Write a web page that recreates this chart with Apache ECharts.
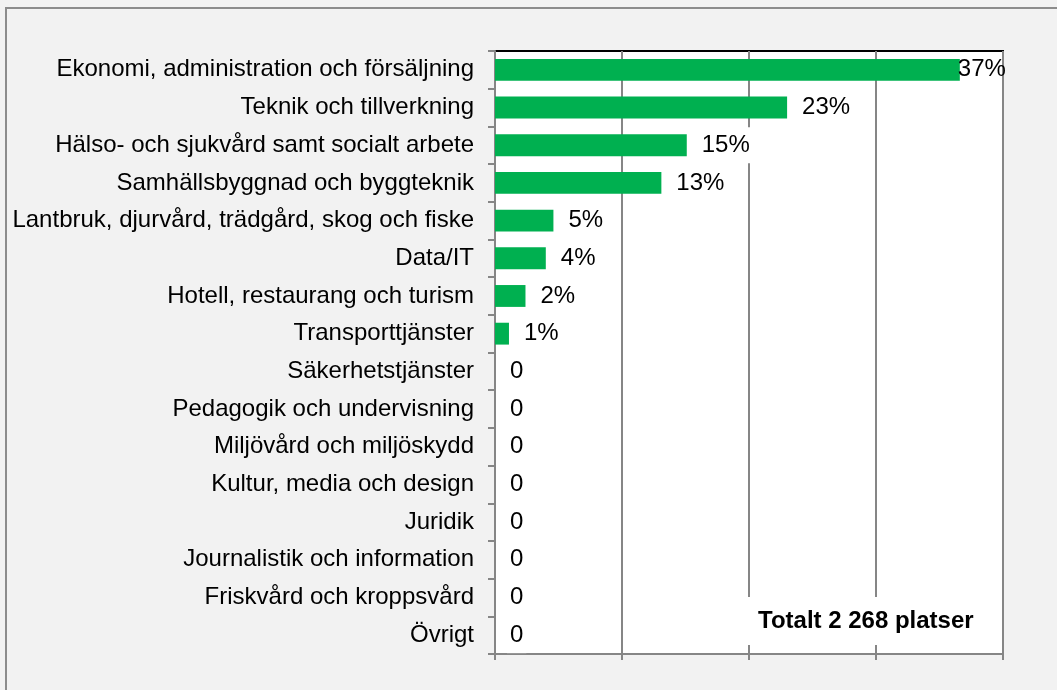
<!DOCTYPE html>
<html>
<head>
<meta charset="utf-8">
<script src="https://cdn.jsdelivr.net/npm/echarts@6/dist/echarts.min.js"></script>
<style>
  html, body { margin: 0; padding: 0; background: #f2f2f2; }
  #chart { width: 1057px; height: 690px; }
</style>
</head>
<body>
<div id="chart"></div>
<script>
// utbildningsområden, andel av platser
const categories = [
  'Ekonomi, administration och försäljning',
  'Teknik och tillverkning',
  'Hälso- och sjukvård samt socialt arbete',
  'Samhällsbyggnad och byggteknik',
  'Lantbruk, djurvård, trädgård, skog och fiske',
  'Data/IT',
  'Hotell, restaurang och turism',
  'Transporttjänster',
  'Säkerhetstjänster',
  'Pedagogik och undervisning',
  'Miljövård och miljöskydd',
  'Kultur, media och design',
  'Juridik',
  'Journalistik och information',
  'Friskvård och kroppsvård',
  'Övrigt'
]
const shares = [0.366, 0.230, 0.151, 0.131, 0.046, 0.040, 0.024, 0.011, 0, 0, 0, 0, 0, 0, 0, 0]
const axisTicks = [0, 0.1, 0.2, 0.3, 0.4]
const totalText = 'Totalt 2 268 platser'

const font = 'Liberation Sans, Arial, sans-serif'

const chart = echarts.init(document.getElementById('chart'))

const fmt = (v) => (v === 0 ? '0' : Math.round(v * 100) + '%')

const option = {
  backgroundColor: '#f2f2f2',
  animation: false,
  grid: {
    left: 495,
    top: 51,
    right: 54,
    bottom: 36,
    show: true,
    backgroundColor: '#fff',
    borderColor: '#000',
    borderWidth: 2,
  },
  xAxis: {
    type: 'value',
    min: axisTicks[0],
    max: axisTicks[axisTicks.length - 1],
    interval: axisTicks[1] - axisTicks[0],
    axisLine: { show: true, lineStyle: { color: '#868686', width: 2 } },
    axisTick: { show: true, length: 6, lineStyle: { color: '#868686', width: 2 } },
    axisLabel: { show: false },
    splitLine: { show: true, lineStyle: { color: '#868686', width: 2 } },
  },
  yAxis: {
    type: 'category',
    inverse: true,
    data: categories,
    axisLine: { show: true, lineStyle: { color: '#868686', width: 2 } },
    axisTick: { show: true, length: 7, lineStyle: { color: '#868686', width: 2 } },
    axisLabel: { margin: 21, color: '#000', fontSize: 24, fontFamily: font },
    splitLine: { show: false },
  },
  series: [
    {
      type: 'bar',
      barWidth: '58%',
      itemStyle: { color: '#00b050' },
      label: {
        show: true,
        position: 'right',
        distance: 12,
        color: '#000',
        fontSize: 24,
        fontFamily: font,
        backgroundColor: '#fff',
        padding: [6, 3],
        formatter: (p) => fmt(p.value),
      },
      // the largest label is pushed back inside the plot area
      data: shares.map((v, i) => (i === 0 ? { value: v, label: { offset: [-17, 0], backgroundColor: 'transparent' } } : v)),
    },
  ],
  graphic: [
    {
      type: 'rect',
      silent: true,
      shape: { x: 6, y: 8, width: 1200, height: 900 },
      style: { fill: null, stroke: '#8c8c8c', lineWidth: 2 },
      z: 100,
    },
    {
      type: 'text',
      left: 746,
      top: 597,
      z: 100,
      style: {
        text: totalText,
        fill: '#000',
        font: 'bold 24px ' + font,
        backgroundColor: '#fff',
        padding: [12, 12],
      },
    },
  ],
}

chart.setOption(option)
</script>
</body>
</html>
